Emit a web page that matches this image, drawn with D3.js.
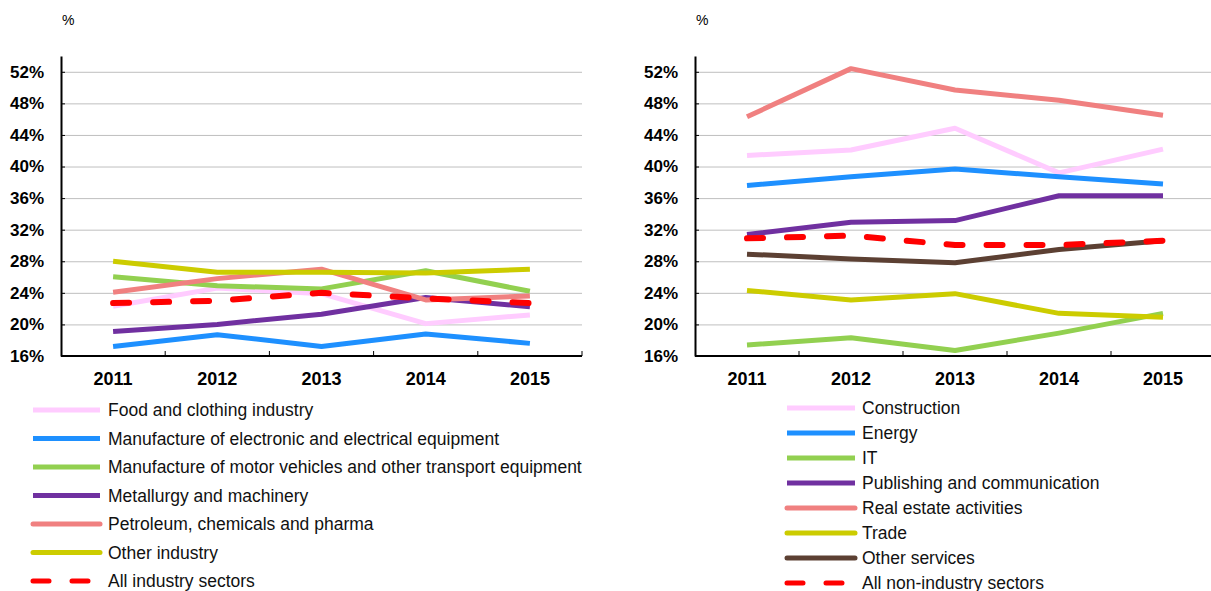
<!DOCTYPE html>
<html><head><meta charset="utf-8">
<script src="https://cdn.jsdelivr.net/npm/d3@7"></script>
<style>
body{margin:0;background:#fff;}
svg{display:block;font-family:"Liberation Sans",Arial,sans-serif;}
</style></head>
<body><svg id="c" width="1211" height="591"></svg>
<script>
const years = ["2011","2012","2013","2014","2015"];
const yTicks = [16,20,24,28,32,36,40,44,48,52];

// Left panel: industry sectors
const industryNames = ["Food and clothing industry","Manufacture of electronic and electrical equipment","Manufacture of motor vehicles and other transport equipment","Metallurgy and machinery","Petroleum, chemicals and pharma","Other industry","All industry sectors"];
const foodClothing   = [22.3, 24.6, 23.9, 20.1, 21.2];
const electronic     = [17.2, 18.7, 17.2, 18.8, 17.6];
const motorVehicles  = [26.05, 24.9, 24.5, 26.8, 24.2];
const metallurgy     = [19.1, 20.0, 21.3, 23.4, 22.25];
const petroleum      = [24.07, 25.8, 27.0, 23.1, 23.6];
const otherIndustry  = [28.0, 26.6, 26.6, 26.5, 27.0];
const allIndustry    = [22.7, 23.0, 24.0, 23.3, 22.7];

// Right panel: non-industry sectors
const serviceNames = ["Construction","Energy","IT","Publishing and communication","Real estate activities","Trade","Other services","All non-industry sectors"];
const construction   = [41.4, 42.1, 44.85, 39.2, 42.2];
const energy         = [37.6, 38.7, 39.7, 38.7, 37.8];
const itSector       = [17.4, 18.3, 16.7, 18.9, 21.4];
const publishing     = [31.4, 32.95, 33.15, 36.3, 36.3];
const realEstate     = [46.3, 52.4, 49.7, 48.4, 46.5];
const trade          = [24.3, 23.1, 23.9, 21.4, 20.9];
const otherServices  = [28.9, 28.3, 27.8, 29.5, 30.6];
const allNonIndustry = [30.9, 31.25, 30.05, 30.05, 30.6];

const C = {pink:"#ffccff", blue:"#1e90ff", green:"#92d050", purple:"#7030a0", salmon:"#f08080", yellow:"#cccc00", brown:"#5c4033", red:"#ff0000"};

const leftSeries = [
  {name:industryNames[0], values:foodClothing, color:C.pink, cap:"butt"},
  {name:industryNames[1], values:electronic, color:C.blue, cap:"butt"},
  {name:industryNames[2], values:motorVehicles, color:C.green, cap:"butt"},
  {name:industryNames[3], values:metallurgy, color:C.purple, cap:"butt"},
  {name:industryNames[4], values:petroleum, color:C.salmon, cap:"round"},
  {name:industryNames[5], values:otherIndustry, color:C.yellow, cap:"round"},
  {name:industryNames[6], values:allIndustry, color:C.red, cap:"round", dash:true}
];
const rightSeries = [
  {name:serviceNames[0], values:construction, color:C.pink, cap:"butt"},
  {name:serviceNames[1], values:energy, color:C.blue, cap:"butt"},
  {name:serviceNames[2], values:itSector, color:C.green, cap:"butt"},
  {name:serviceNames[3], values:publishing, color:C.purple, cap:"butt"},
  {name:serviceNames[4], values:realEstate, color:C.salmon, cap:"round"},
  {name:serviceNames[5], values:trade, color:C.yellow, cap:"round"},
  {name:serviceNames[6], values:otherServices, color:C.brown, cap:"round"},
  {name:serviceNames[7], values:allNonIndustry, color:C.red, cap:"round", dash:true}
];

const svg = d3.select("#c");

function panel(x0, x1, series, legend){
  const top = 56, bottom = 356;
  const x = d3.scaleBand().domain(years).range([x0, x1]).padding(0);
  const y = d3.scaleLinear().domain([16, 54]).range([bottom, top]);
  const g = svg.append("g");

  // grid
  g.append("g").attr("transform",`translate(${x0},0)`)
    .call(d3.axisLeft(y).tickValues(yTicks.slice(1)).tickSize(-(x1-x0)).tickFormat(""))
    .call(a=>a.select(".domain").remove())
    .call(a=>a.selectAll("line").attr("stroke","#bfbfbf").attr("stroke-width",1));

  // lines
  const line = d3.line().x((d,i)=>x(years[i])+x.bandwidth()/2).y(d=>y(d));
  series.forEach(s=>{
    g.append("path").datum(s.values).attr("d",line)
      .attr("fill","none").attr("stroke",s.color).attr("stroke-width",s.dash?6:5)
      .attr("stroke-linejoin","round").attr("stroke-linecap",s.dash?"round":"butt")
      .attr("stroke-dasharray",s.dash?"16,24":null);
  });

  // y axis
  const ya = g.append("g").attr("transform",`translate(${x0},0)`)
    .call(d3.axisLeft(y).tickValues(yTicks).tickSizeInner(-4).tickSizeOuter(0).tickPadding(17).tickFormat(d=>d+"%"));
  ya.select(".domain").attr("stroke","#000").attr("stroke-width",2);
  ya.selectAll("line").attr("stroke","#000").attr("stroke-width",1);
  ya.selectAll("text").attr("font-size",17).attr("font-weight","bold").attr("fill","#000")
    .attr("font-family","'Liberation Sans',Arial,sans-serif");

  // x axis
  const xa = g.append("g").attr("transform",`translate(0,${bottom})`)
    .call(d3.axisBottom(x).tickSize(0).tickPadding(16));
  xa.select(".domain").attr("stroke","#000").attr("stroke-width",2).attr("d",`M${x0},0H${x1}`);
  xa.selectAll("text").attr("font-size",18).attr("font-weight","bold").attr("fill","#000")
    .attr("font-family","'Liberation Sans',Arial,sans-serif");
  const bounds = years.map(yv=>x(yv)+x.bandwidth());
  xa.selectAll(".bnd").data(bounds).enter().append("line").attr("class","bnd")
    .attr("x1",d=>d).attr("x2",d=>d).attr("y1",0).attr("y2",-5)
    .attr("stroke","#000").attr("stroke-width",1);

  // % label
  g.append("text").attr("x",x0+1).attr("y",25).attr("font-size",14).attr("fill","#000").text("%");

  // legend
  const lg = g.append("g");
  series.forEach((s,i)=>{
    const ly = legend.y0 + i*legend.dy;
    lg.append("line").attr("x1",legend.lx0).attr("x2",legend.lx1).attr("y1",ly).attr("y2",ly)
      .attr("stroke",s.color).attr("stroke-width",5).attr("stroke-linecap",s.cap)
      .attr("stroke-dasharray",s.dash?"16,23":null);
    lg.append("text").attr("x",legend.tx).attr("y",ly).attr("dy","0.35em")
      .attr("font-size",17.5).attr("fill","#111").text(s.name);
  });
}

panel(61, 582, leftSeries, {y0:410, dy:28.5, lx0:33, lx1:100, tx:108});
panel(695, 1215, rightSeries, {y0:408, dy:25, lx0:787, lx1:855, tx:862});
</script></body></html>
